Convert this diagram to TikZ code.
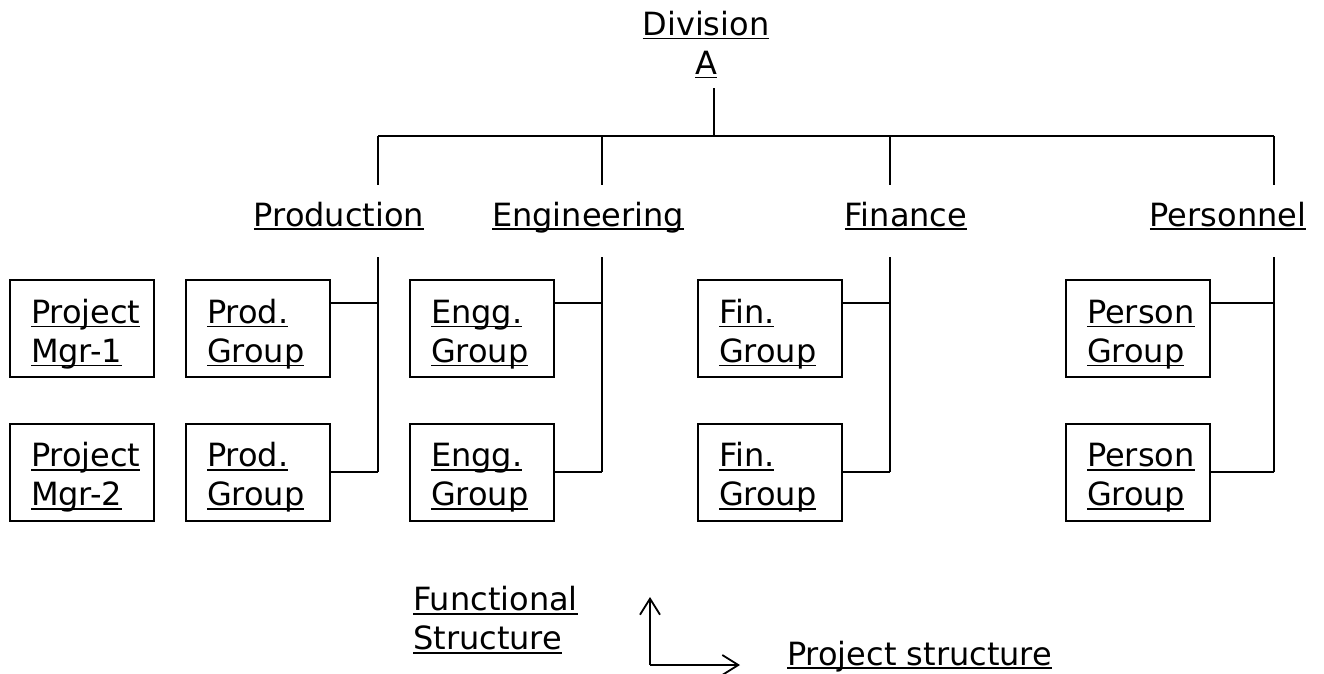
\documentclass[tikz,border=0pt]{standalone}
\usepackage{fontspec}
\setmainfont{DejaVu Sans}
\usetikzlibrary{arrows.meta}
\newcommand\ulin[1]{\leavevmode\setbox0\hbox{#1}\rlap{\rule[-4pt]{\wd0}{1.6pt}}\box0}
\newcommand\highstrut{\rule{0pt}{35pt}}

\begin{document}
\begin{tikzpicture}[x=1pt,y=1pt,font=\fontsize{32}{39}\selectfont]
\tikzset{
  orgline/.style={line width=1.8pt},
  unitbox/.style={draw, line width=2pt, minimum height=97pt, text width=102pt,
    inner xsep=21pt, inner ysep=0pt, align=left},
  deptlabel/.style={anchor=base, inner sep=0pt}
}
\useasboundingbox (0,0) rectangle (1324,-674);

% top of the tree
\node[inner sep=0pt, align=center] (divA) at (706,-44.5) {\ulin{Division}\\\ulin{A}};
\coordinate (divBus) at (714,-136);
\draw[orgline] ([yshift=-10pt]divA.south -| divBus) -- (divBus);
\draw[orgline] (378,-136) coordinate (busL) -- (1274,-136) coordinate (busR);

% departments
\foreach \nm/\lbl/\lx/\bx/\cx/\tx in {prod/Production/339/378/258/Prod.,
    engg/Engineering/588/602/482/Engg., fin/Finance/906/890/770/Fin.,
    pers/Personnel/1228/1274/1138/Person}{
  \node[deptlabel] (\nm) at (\lx,-226) {\ulin{\lbl}};
  \coordinate (\nm-up) at (\bx,-136);
  \coordinate (\nm-top) at (\bx,-185);
  \coordinate (\nm-stem) at (\bx,-257);
  \coordinate (\nm-j1) at (\bx,-303);
  \coordinate (\nm-j2) at (\bx,-472);
  \node[unitbox] (\nm-1) at (\cx,-328.5) {\highstrut\ulin{\tx}\\\ulin{Group}};
  \node[unitbox] (\nm-2) at (\cx,-472) {\highstrut\ulin{\tx}\\\ulin{Group}};
  \draw[orgline] (\nm-up) -- (\nm-top);
  \draw[orgline] (\nm-stem) -- (\nm-j2);
  \draw[orgline] (\nm-1.east |- \nm-j1) -- (\nm-j1);
  \draw[orgline] (\nm-2.east) -- (\nm-j2);
}

% project managers
\node[unitbox] (pm1) at (82,-328.5) {\highstrut\ulin{Project}\\\ulin{Mgr-1}};
\node[unitbox] (pm2) at (82,-472) {\highstrut\ulin{Project}\\\ulin{Mgr-2}};

% legend
\node[anchor=west, inner sep=0pt, align=left] (func) at (413,-620) {\ulin{Functional}\\\ulin{Structure}};
\node[anchor=base west, inner sep=0pt] (proj) at (787,-665) {\ulin{Project structure}};
\coordinate (axis) at (650,-665);
\coordinate (funcTip) at (650,-597);
\coordinate (projTip) at (740,-665);
\draw[orgline, -{Straight Barb[length=16pt,width=20pt]}] (axis) -- (funcTip);
\draw[orgline, -{Straight Barb[length=16pt,width=20pt]}] (axis) -- (projTip);
\end{tikzpicture}
\end{document}
